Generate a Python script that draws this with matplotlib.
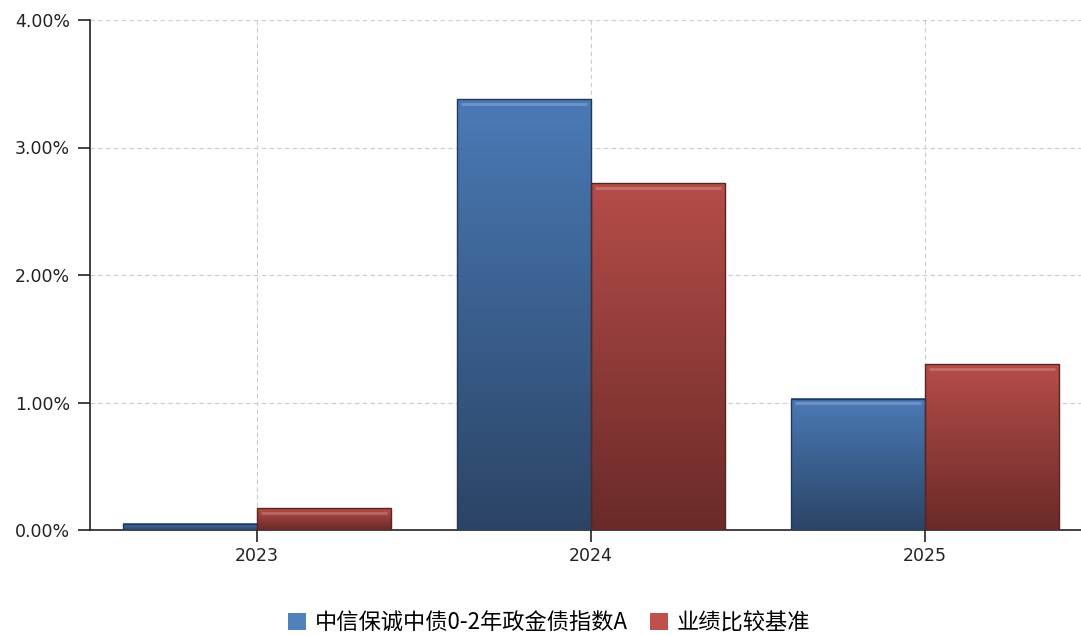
import numpy as np
import matplotlib
matplotlib.use('Agg')
import matplotlib.pyplot as plt
from matplotlib.colors import LinearSegmentedColormap
from matplotlib.patches import Rectangle, Patch
from matplotlib.ticker import FuncFormatter, MultipleLocator

plt.rcParams['font.family'] = ['DejaVu Sans']

# data (percent)
years = ['2023', '2024', '2025']
fund = [0.05, 3.38, 1.03]
bench = [0.17, 2.72, 1.30]
series_names = ['中信保诚中债0-2年政金债指数A', '业绩比较基准']

fig = plt.figure(figsize=(10.81, 6.35), dpi=100)
ax = fig.add_axes([90 / 1081, 1 - 530 / 635, 1002 / 1081, 510 / 635])

width = 0.4
x = np.arange(len(years))

styles = [
    (fund, -width / 2, '#4a7ab6', '#2b4466', '#24395a', '#4f81bd'),
    (bench, width / 2, '#b54d49', '#6a2a28', '#5a2422', '#c0504d'),
]

grad = np.linspace(0, 1, 256).reshape(-1, 1)
for vals, off, top_c, bot_c, edge_c, _ in styles:
    cmap = LinearSegmentedColormap.from_list('g', [bot_c, top_c])
    for xi, v in zip(x, vals):
        x0 = xi + off - width / 2
        x1 = xi + off + width / 2
        ax.imshow(grad, extent=[x0, x1, 0, v], origin='lower', aspect='auto',
                  cmap=cmap, zorder=3, interpolation='bicubic')
        ax.add_patch(Rectangle((x0, 0), width, v, fill=False, edgecolor=edge_c,
                               linewidth=1.0, zorder=4))
        # light bevel near top
        if v > 0.1:
            ax.plot([x0 + 0.012, x1 - 0.012], [v - 0.035, v - 0.035],
                    color='white', alpha=0.2, linewidth=2, zorder=4,
                    solid_capstyle='butt')

ax.set_xlim(-0.5, 2.5)
ax.set_ylim(0, 4)
ax.set_xticks(x)
ax.set_xticklabels(years)
ax.yaxis.set_major_locator(MultipleLocator(1))
ax.yaxis.set_major_formatter(FuncFormatter(lambda v, p: f'{v:.2f}%'))

ax.grid(True, color='#c8ccd2', linestyle=(0, (4, 3)), linewidth=0.8, zorder=0)
ax.set_axisbelow(True)

for s in ['top', 'right']:
    ax.spines[s].set_visible(False)
for s in ['left', 'bottom']:
    ax.spines[s].set_color('#222222')
    ax.spines[s].set_linewidth(1.2)

ax.tick_params(axis='both', labelsize=12.5, colors='#222222', length=8.5, width=1.2)
ax.tick_params(axis='y', pad=6)
ax.tick_params(axis='x', pad=4)

handles = [Patch(facecolor=s[5], edgecolor='none') for s in styles]
fig.legend(handles, series_names, loc='center', bbox_to_anchor=(0.508, 0.019),
           ncol=2, frameon=False, handlelength=0.8, handleheight=0.8,
           handletextpad=0.4, columnspacing=1.0,
           prop={'family': ['Noto Sans CJK SC', 'DejaVu Sans'], 'size': 16})

fig.savefig('out.png', dpi=100)
